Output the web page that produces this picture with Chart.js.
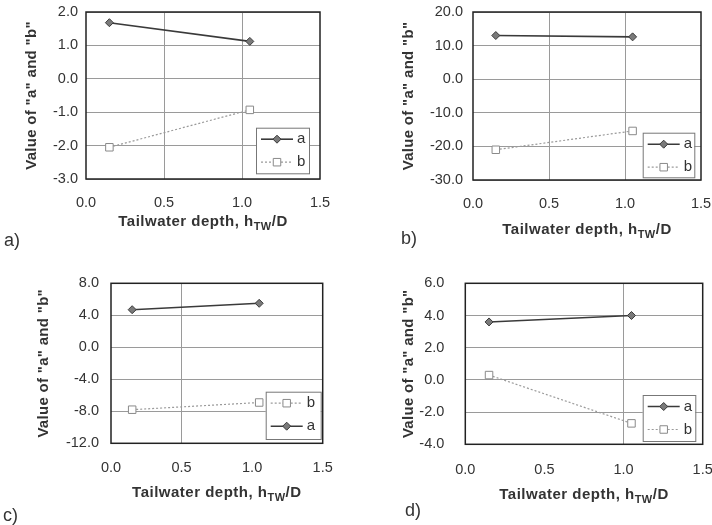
<!DOCTYPE html>
<html>
<head>
<meta charset="utf-8">
<script src="https://cdn.jsdelivr.net/npm/chart.js@4/dist/chart.umd.min.js"></script>
<style>
  html, body { margin:0; padding:0; background:#fff; width:712px; height:525px; overflow:hidden; position:relative; }
  canvas { position:absolute; }
  .lbl { position:absolute; font-family:"Liberation Sans", Arial, sans-serif; font-size:18px; color:#333; line-height:1; }
</style>
</head>
<body>
<canvas id="ca" width="356" height="260" style="left:0px;top:0px"></canvas>
<canvas id="cb" width="356" height="260" style="left:356px;top:0px"></canvas>
<canvas id="cc" width="356" height="265" style="left:0px;top:260px"></canvas>
<canvas id="cd" width="366" height="265" style="left:356px;top:260px"></canvas>
<div class="lbl" style="left:4px;top:231px">a)</div>
<div class="lbl" style="left:401px;top:229px">b)</div>
<div class="lbl" style="left:3px;top:506px">c)</div>
<div class="lbl" style="left:405px;top:501px">d)</div>
<script>
// ---- data ----
const xDepth = [0.15, 1.05];
const panelA_a = [1.68, 1.12];
const panelA_b = [-2.05, -0.93];
const panelB_a = [13.0, 12.6];
const panelB_b = [-21.0, -15.4];
const panelC_a = [4.7, 5.5];
const panelC_b = [-7.8, -6.9];
const panelD_a = [3.6, 4.0];
const panelD_b = [0.3, -2.7];
const seriesNames = ["a", "b"];
const xTicks = [0.0, 0.5, 1.0, 1.5];
const yRangeA = [-3, 2, 1];
const yRangeB = [-30, 20, 10];
const yRangeC = [-12, 8, 4];
const yRangeD = [-4, 6, 2];
const yTitle = 'Value of "a" and "b"';
const xTitleParts = ["Tailwater depth, h", "TW", "/D"];

const FONT = '"Liberation Sans", Arial, sans-serif';
const TXT = '#333';

const frameAndLegend = {
  id: 'frameAndLegend',
  afterDraw(chart) {
    const o = chart.options.plugins.frameAndLegend;
    const ctx = chart.ctx, ca = chart.chartArea;
    ctx.save();
    // legend box
    const bx = ca.right - o.lg.rm - o.lg.w, by = ca.bottom - o.lg.bm - o.lg.h;
    ctx.fillStyle = '#fff';
    ctx.fillRect(bx, by, o.lg.w, o.lg.h);
    ctx.strokeStyle = '#777'; ctx.lineWidth = 1;
    ctx.strokeRect(bx + 0.5, by + 0.5, o.lg.w, o.lg.h);
    o.lg.order.forEach((di, i) => {
      const ds = chart.data.datasets[di];
      const yy = by + 11.5 + i * 23;
      const x0 = bx + 5, x1 = bx + 37, xm = (x0 + x1) / 2;
      ctx.strokeStyle = ds.borderColor; ctx.lineWidth = ds.borderWidth;
      ctx.setLineDash(ds.borderDash || []);
      ctx.beginPath(); ctx.moveTo(x0, yy); ctx.lineTo(x1, yy); ctx.stroke();
      ctx.setLineDash([]);
      ctx.fillStyle = ds.pointBackgroundColor; ctx.strokeStyle = ds.pointBorderColor; ctx.lineWidth = 1;
      Chart.helpers.drawPoint(ctx, {pointStyle: ds.pointStyle, rotation: 0, borderWidth: 1, radius: ds.pointRadius}, xm, yy);
      ctx.fillStyle = TXT; ctx.font = '15px ' + FONT; ctx.textBaseline = 'middle'; ctx.textAlign = 'left';
      ctx.fillText(ds.label, x1 + 4, yy);
    });
    // frame
    ctx.strokeStyle = '#222'; ctx.lineWidth = 1.5;
    ctx.strokeRect(ca.left, ca.top, ca.right - ca.left, ca.bottom - ca.top);
    // y title
    ctx.fillStyle = TXT;
    ctx.save();
    ctx.letterSpacing = '0.3px';
    ctx.translate(o.yTitleX, (ca.top + ca.bottom) / 2);
    ctx.rotate(-Math.PI / 2);
    ctx.font = 'bold 15px ' + FONT; ctx.textAlign = 'center'; ctx.textBaseline = 'middle';
    ctx.fillText(yTitle, 0, 0);
    ctx.restore();
    // x title with subscript
    ctx.letterSpacing = '0.5px';
    const cx = (ca.left + ca.right) / 2, ty = ca.bottom + o.xTitleOff;
    const f1 = 'bold 15px ' + FONT, f2 = 'bold 11px ' + FONT;
    ctx.font = f1; const w1 = ctx.measureText(xTitleParts[0]).width, w3 = ctx.measureText(xTitleParts[2]).width;
    ctx.font = f2; const w2 = ctx.measureText(xTitleParts[1]).width;
    let x = cx - (w1 + w2 + w3) / 2;
    ctx.textAlign = 'left'; ctx.textBaseline = 'middle';
    ctx.font = f1; ctx.fillText(xTitleParts[0], x, ty); x += w1;
    ctx.font = f2; ctx.fillText(xTitleParts[1], x, ty + 5); x += w2;
    ctx.font = f1; ctx.fillText(xTitleParts[2], x, ty);
    ctx.restore();
  }
};

function zeroPad(s) { s.paddingTop = 0; s.paddingBottom = 0; s.paddingLeft = 0; s.paddingRight = 0; }

function makeChart(id, aVals, bVals, yr, cfg) {
  const ds = [
    { label: seriesNames[0], data: xDepth.map((x, i) => ({x, y: aVals[i]})),
      showLine: true, borderColor: '#3a3a3a', borderWidth: 1.6,
      pointStyle: 'rectRot', pointRadius: 4, pointBackgroundColor: '#7a7a7a', pointBorderColor: '#3a3a3a', pointBorderWidth: 1 },
    { label: seriesNames[1], data: xDepth.map((x, i) => ({x, y: bVals[i]})),
      showLine: true, borderColor: '#9a9a9a', borderWidth: 1.2, borderDash: [2, 2],
      pointStyle: 'rect', pointRadius: 5.3, pointBackgroundColor: '#fff', pointBorderColor: '#8a8a8a', pointBorderWidth: 1 }
  ];
  return new Chart(document.getElementById(id), {
    type: 'scatter',
    data: { datasets: ds },
    plugins: [frameAndLegend],
    options: {
      responsive: false, animation: false, devicePixelRatio: 1,
      layout: { padding: { left: 0, top: cfg.top, right: cfg.right, bottom: 0 } },
      plugins: { legend: { display: false }, tooltip: { enabled: false },
        frameAndLegend: { lg: cfg.lg, xTitleOff: cfg.xTitleOff, yTitleX: cfg.yTitleX } },
      scales: {
        x: {
          type: 'linear', min: 0, max: 1.5,
          afterBuildTicks: s => { s.ticks = xTicks.map(v => ({value: v})); },
          afterFit: s => { s.height = cfg.xh; zeroPad(s); },
          grid: { drawTicks: false, tickLength: 0, lineWidth: 1,
            color: c => (cfg.vgrid.includes(c.tick && c.tick.value) ? '#9a9a9a' : 'rgba(0,0,0,0)') },
          border: { display: false },
          ticks: { padding: cfg.xpad, color: TXT, font: { family: FONT, size: 14.5 }, maxRotation: 0,
            callback: v => Number(v).toFixed(1) }
        },
        y: {
          min: yr[0], max: yr[1],
          afterFit: s => { s.width = cfg.yw; zeroPad(s); },
          grid: { drawTicks: false, tickLength: 0, color: '#9a9a9a', lineWidth: 1 },
          border: { display: false },
          ticks: { stepSize: yr[2], padding: cfg.ypad, color: TXT, font: { family: FONT, size: 14.5 },
            callback: v => Number(v).toFixed(1) }
        }
      }
    }
  });
}

makeChart('ca', panelA_a, panelA_b, yRangeA,
  { top: 12, right: 36, yw: 86, xh: 81, xpad: 15, ypad: 8, yTitleX: 32, xTitleOff: 43, vgrid: [0.5, 1.0],
    lg: { rm: 11, bm: 5.7, w: 53, h: 45.6, order: [0, 1] } });
makeChart('cb', panelB_a, panelB_b, yRangeB,
  { top: 12, right: 11, yw: 117, xh: 80, xpad: 15, ypad: 10, yTitleX: 52.7, xTitleOff: 50, vgrid: [0.5, 1.0],
    lg: { rm: 6.7, bm: 2.7, w: 51.6, h: 44.6, order: [0, 1] } });
makeChart('cc', panelC_a, panelC_b, yRangeC,
  { top: 23.3, right: 33.3, yw: 111, xh: 81.7, xpad: 15.5, ypad: 12, yTitleX: 43.7, xTitleOff: 50, vgrid: [0.5],
    lg: { rm: 2, bm: 4.3, w: 55, h: 47.3, order: [1, 0] } });
makeChart('cd', panelD_a, panelD_b, yRangeD,
  { top: 23.3, right: 19.3, yw: 109.3, xh: 80.7, xpad: 17, ypad: 21, yTitleX: 53.3, xTitleOff: 50.7, vgrid: [1.0],
    lg: { rm: 7.4, bm: 3.3, w: 52.6, h: 46, order: [0, 1] } });
</script>
</body>
</html>
